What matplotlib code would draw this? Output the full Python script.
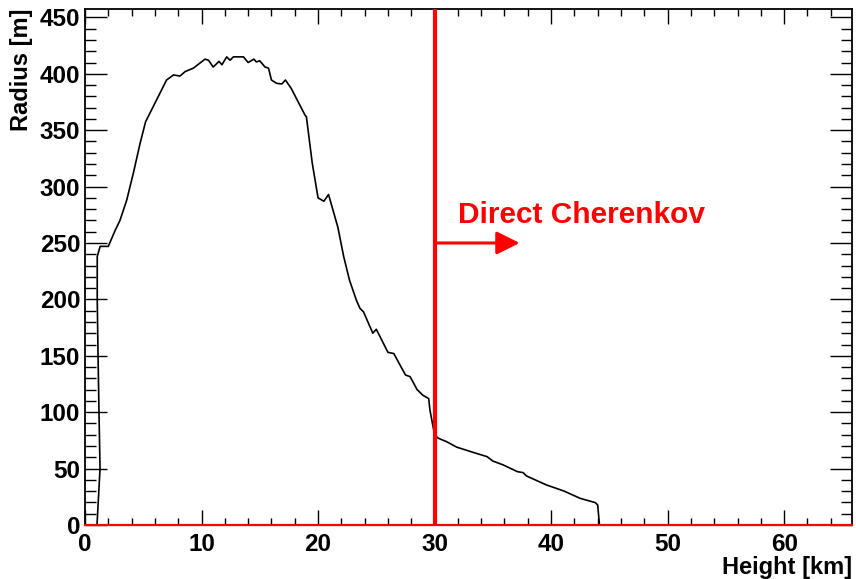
import matplotlib
matplotlib.use("Agg")
import matplotlib.pyplot as plt
from matplotlib.ticker import MultipleLocator

plt.rcParams['font.family'] = ['Liberation Sans', 'DejaVu Sans']
plt.rcParams['font.weight'] = 'bold'

# ---- data ----
height_km = [1.03, 1.29, 1.20, 1.12, 1.05, 1.05, 1.30, 2.0, 2.58, 3.0, 3.58, 4.15,
             4.72, 5.2, 6.15, 7.0, 7.6, 8.15, 8.6, 9.3, 10.3, 10.6, 11.0, 11.5,
             11.75, 12.16, 12.45, 12.73, 13.6, 14.0, 14.5, 14.7, 15.0, 15.45,
             15.75, 16.0, 16.45, 16.9, 17.2, 17.7, 18.2, 18.9, 19.0, 19.5, 20.0,
             20.5, 20.9, 21.7, 22.2, 22.7, 23.3, 23.6, 23.9, 24.7, 25.0, 26.0,
             26.5, 27.5, 27.9, 28.5, 29.0, 29.5, 29.6, 30.0, 30.3, 31.0, 31.9,
             33.3, 34.5, 35.0, 35.9, 37.1, 37.6, 37.9, 39.6, 41.1, 42.5, 43.8,
             44.0, 44.15, 65.8]
radius_m = [0, 50, 100, 150, 200, 238, 247, 247, 261, 270, 288, 312,
            338, 357.5, 377, 394.5, 399, 398, 402, 405, 413, 412, 406, 411,
            408, 415, 412, 415, 415, 410, 413, 410.5, 411.5, 406,
            405, 394.5, 391.5, 391, 394.5, 387, 377, 363, 362, 321, 290,
            287, 293, 264, 238, 217, 199, 192, 189, 170, 173.5, 153,
            152, 133, 131.5, 120, 115, 112, 102, 80, 77, 74, 69,
            64.4, 60.6, 56.7, 53.2, 47.3, 46.4, 43.4, 35.5, 30.1, 23.6, 19.8,
            17.7, 0, 0]

cut_height = 30.0
arrow_end = 37.3
arrow_level = 250
label = "Direct Cherenkov"

fig = plt.figure(figsize=(8.56, 5.79), dpi=100)
ax = fig.add_axes([0.0993, 0.0933, 0.8957, 0.8903])

ax.plot(height_km, radius_m, color='black', lw=1.2, zorder=3)

# red markers: bottom line, cut line, arrow
ax.axhline(0, color='red', lw=1.6, zorder=6, clip_on=False)
ax.axvline(cut_height, color='red', lw=3.0, zorder=5)
ax.annotate('', xy=(arrow_end, arrow_level), xytext=(cut_height, arrow_level),
            arrowprops=dict(arrowstyle='-|>,head_length=1.4,head_width=0.7',
                            color='red', lw=2.2, shrinkA=0, shrinkB=0), zorder=5)
ax.text(32.0, 268, label, color='red', fontsize=21.5, fontweight='bold',
        ha='left', va='baseline')

ax.set_xlim(0, 65.8)
ax.set_ylim(0, 457)
ax.xaxis.set_major_locator(MultipleLocator(10))
ax.xaxis.set_minor_locator(MultipleLocator(2))
ax.yaxis.set_major_locator(MultipleLocator(50))
ax.yaxis.set_minor_locator(MultipleLocator(10))
ax.tick_params(axis='x', which='major', direction='in', length=10.8, width=1.0,
               top=True, labelsize=17.5, pad=6)
ax.tick_params(axis='x', which='minor', direction='in', length=5.2, width=1.0, top=True)
ax.tick_params(axis='y', which='major', direction='in', length=15.8, width=1.0,
               right=True, labelsize=17.5, pad=3.5)
ax.tick_params(axis='y', which='minor', direction='in', length=8, width=1.0, right=True)
for s in ax.spines.values():
    s.set_linewidth(1.3)

fig.text(0.995, 0.0, "Height [km]", ha='right', va='bottom', fontsize=17,
         fontweight='bold')
fig.text(0.012, 0.985, "Radius [m]", ha='left', va='top', rotation=90,
         fontsize=17, fontweight='bold')

fig.savefig("out.png", dpi=100)
